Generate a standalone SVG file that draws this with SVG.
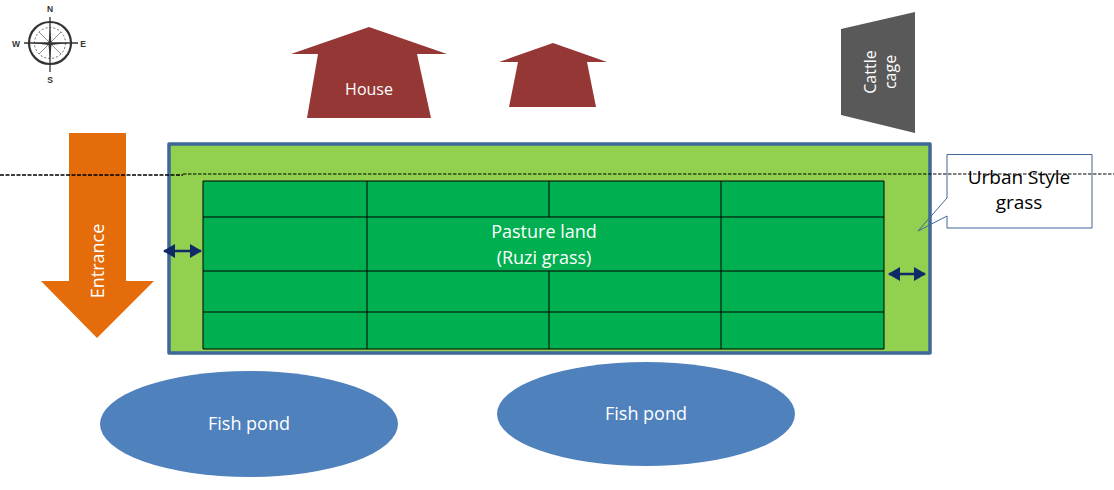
<svg xmlns="http://www.w3.org/2000/svg" width="1114" height="490" viewBox="0 0 1114 490">
<style>
text{font-family:"Open Sans","Noto Sans","DejaVu Sans",sans-serif;font-size:16px;text-anchor:middle}
.w{fill:#fff}
.m{font-size:18px}
.b{fill:#953735}
.g{fill:none;stroke:#000;stroke-width:1}
.c{stroke:#333;fill:none}
.l{font-family:"Liberation Sans",sans-serif;font-size:8.500px;font-weight:bold;fill:#333}
.a{stroke:#0f2a66;stroke-width:2.500;fill:none;marker-start:url(#h);marker-end:url(#h)}
.p{fill:#4f81bd}
.d{stroke:#000;fill:none}
.u{font-size:19px;fill:#000}
</style>
<defs>
<marker id="h" viewBox="0 0 12 14" refX="11" refY="7" markerWidth="12" markerHeight="14" markerUnits="userSpaceOnUse" orient="auto-start-reverse"><path d="M0 0L12 7L0 14z" fill="#0f2a66"/></marker>
</defs>
<g id="compass">
<circle class="c" cx="50" cy="43" r="21" stroke-width="2.200"/>
<circle class="c" cx="50" cy="43" r="15.500" stroke-width="1" stroke-dasharray="2 2" opacity=".7"/>
<path class="c" stroke-width="1.300" d="M50 17V72M24 43H78"/>
<path class="c" stroke-width=".8" opacity=".7" d="M39 32L61 54M61 32L39 54"/>
<path d="M48.500 43L50 28L51.500 43L68 43L51.500 45L50 60L48.500 45L32 43z" fill="#333"/>
<text class="l" x="50" y="12">N</text><text class="l" x="16" y="47">W</text><text class="l" x="83" y="47">E</text><text class="l" x="50" y="83">S</text>
</g>
<g id="house">
<path class="b" d="M369 27L447 54H417L431 118H307L318 54H291z"/>
<text class="w" x="369" y="95">House</text>
</g>
<g id="house2"><path class="b" d="M553 43L607 62H587L596 107H509L518 62H499z"/></g>
<g id="cattle-cage">
<path d="M841 29L915 12V133L841 115z" fill="#595959"/>
<text class="w" transform="translate(876 72) rotate(-90)"><tspan x="0" y="0">Cattle</tspan><tspan x="0" y="20">cage</tspan></text>
</g>
<g id="entrance">
<path d="M69 133H126V281H154L97 338L41 281H69z" fill="#e46c0a"/>
<text class="w m" transform="translate(104 261) rotate(-90)">Entrance</text>
</g>
<g id="field">
<rect x="169" y="144" width="761" height="209" fill="#92d050" stroke="#3f6797" stroke-width="3.500" stroke-linejoin="round"/>
</g>
<g id="pasture">
<rect x="203" y="181" width="681" height="168" fill="#00b050"/>
<path class="g" d="M203 181H884V349H203zM203 217H884M203 271H884M203 312H884M367 181V349M549 181V217M549 271V349M721 181V349"/>
<text class="w m" x="544" y="237.500">Pasture land</text>
<text class="w m" x="544" y="263.500">(Ruzi grass)</text>
</g>
<g id="pond1"><ellipse class="p" cx="249" cy="424" rx="149" ry="53"/><text class="w m" x="249" y="430">Fish pond</text></g>
<g id="pond2"><ellipse class="p" cx="646" cy="414" rx="149" ry="52"/><text class="w m" x="646" y="420">Fish pond</text></g>
<g id="connectors">
<path class="d" d="M0 175H183" stroke-width="1.600" stroke-dasharray="4 1.500"/>
<path class="d" d="M183 174H1114" stroke-width="1" stroke-dasharray="3.500 1.500"/>
<path class="a" d="M164 251H201"/>
<path class="a" d="M889 274H925"/>
</g>
<g id="callout">
<path d="M947 154.500H1092V228H947V216L918 231L947 198z" fill="none" stroke="#3f6797" stroke-width="1"/>
<text class="u" x="1019" y="184">Urban Style</text>
<text class="u" x="1019" y="209">grass</text>
</g>
</svg>
